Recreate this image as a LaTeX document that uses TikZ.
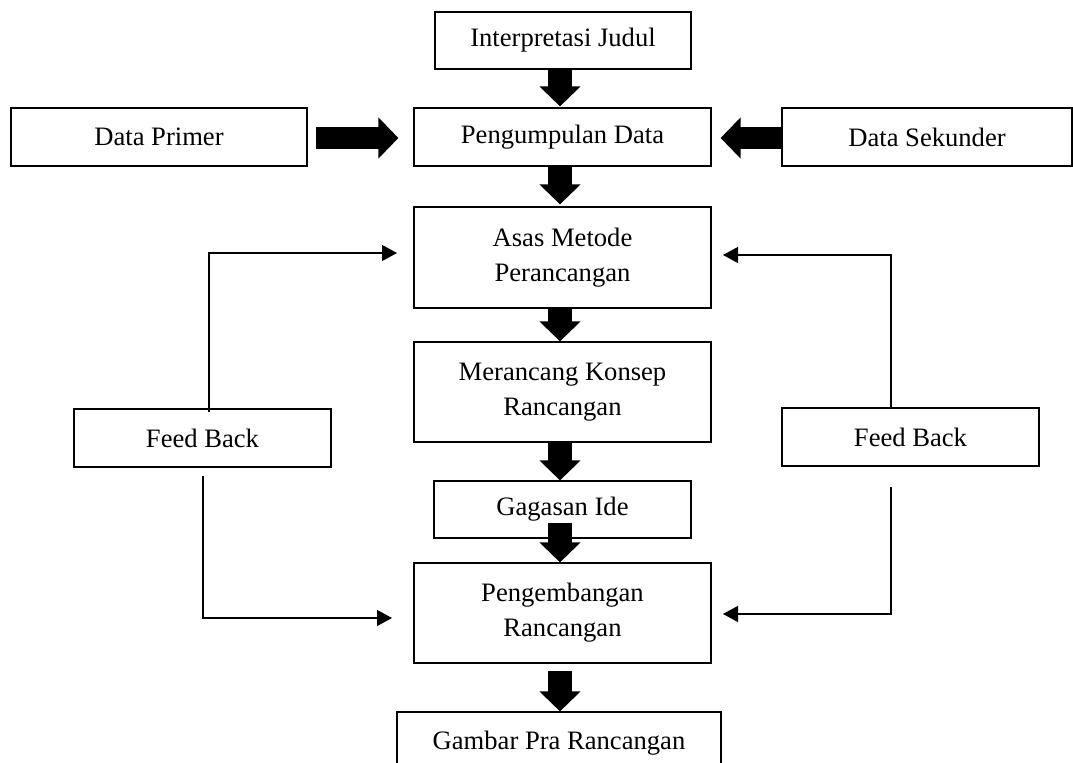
\documentclass[tikz,border=0pt]{standalone}
\usepackage{fontspec}
\setmainfont{Liberation Serif}
\usetikzlibrary{arrows.meta}
\begin{document}
\begin{tikzpicture}[x=0.5pt,y=-0.5pt,
  box/.style={draw, line width=0.6pt, inner sep=0pt, align=center,
    font=\fontsize{13.3}{17.5}\selectfont},
  blk/.style={line width=12pt, -{Triangle[length=10pt,width=20pt]}},
  fb/.style={line width=0.6pt, -{Triangle[length=7.5pt,width=8pt]}}]
\useasboundingbox (0,0) rectangle (1073,763);
% boxes
\node[box, minimum width=128pt, minimum height=28.5pt] (judul) at (563,40.5) {Interpretasi Judul};
\node[box, minimum width=148.5pt, minimum height=29pt] (kumpul) at (562.5,137) {Pengumpulan Data};
\node[box, minimum width=148pt, minimum height=29pt] (primer) at (159,137) {Data Primer};
\node[box, minimum width=145pt, minimum height=29pt] (sekunder) at (927,137) {Data Sekunder};
\node[box, minimum width=148.5pt, minimum height=50.5pt] (asas) at (562.5,257.5) {Asas Metode\\Perancangan};
\node[box, minimum width=148.5pt, minimum height=50pt] (rancang) at (562.5,392) {Merancang Konsep\\Rancangan};
\node[box, minimum width=128.5pt, minimum height=28.5pt] (gagasan) at (562.5,509.5) {Gagasan Ide};
\node[box, minimum width=148.5pt, minimum height=50pt] (kembang) at (562.5,613) {Pengembangan\\Rancangan};
\node[box, minimum width=162pt, minimum height=31pt] (gambar) at (559,743) {Gambar Pra Rancangan};
\node[box, minimum width=128.5pt, minimum height=29pt] (fbL) at (202.5,438) {Feed Back};
\node[box, minimum width=128.5pt, minimum height=29pt] (fbR) at (910.5,437) {Feed Back};
% helper coordinates
\coordinate (cx) at (560,0);
\coordinate (cy) at (0,138);
% block arrows (vertical)
\draw[blk] (judul.south -| cx) -- ([yshift=0.5pt]kumpul.north -| cx);
\draw[blk] (kumpul.south -| cx) -- ([yshift=1pt]asas.north -| cx);
\draw[blk] (asas.south -| cx) -- (rancang.north -| cx);
\draw[blk] (rancang.south -| cx) -- (gagasan.north -| cx);
\draw[blk] ([yshift=8pt]gagasan.south -| cx) -- (kembang.north -| cx);
\draw[blk] ([yshift=-3.5pt]kembang.south -| cx) -- (gambar.north -| cx);
% block arrows (horizontal)
\draw[blk, line width=11pt] ([xshift=4pt]primer.east |- cy) -- ([xshift=-7.5pt]kumpul.west |- cy);
\draw[blk, line width=11pt] (sekunder.west |- cy) -- ([xshift=4.5pt]kumpul.east |- cy);
% feedback connectors
\coordinate (aL1) at (397,253);
\coordinate (aL2) at (203,476);
\coordinate (bL2) at (392,618);
\coordinate (aR1) at (723,255);
\coordinate (aR2) at (891,487);
\coordinate (bR2) at (723,614);
\draw[fb] ([xshift=3.25pt,yshift=-2pt]fbL.north) |- (aL1);
\draw[fb] (aL2) |- (bL2);
\draw[fb] (fbR.north -| aR2) |- (aR1);
\draw[fb] (aR2) |- (bR2);
\end{tikzpicture}
\end{document}
